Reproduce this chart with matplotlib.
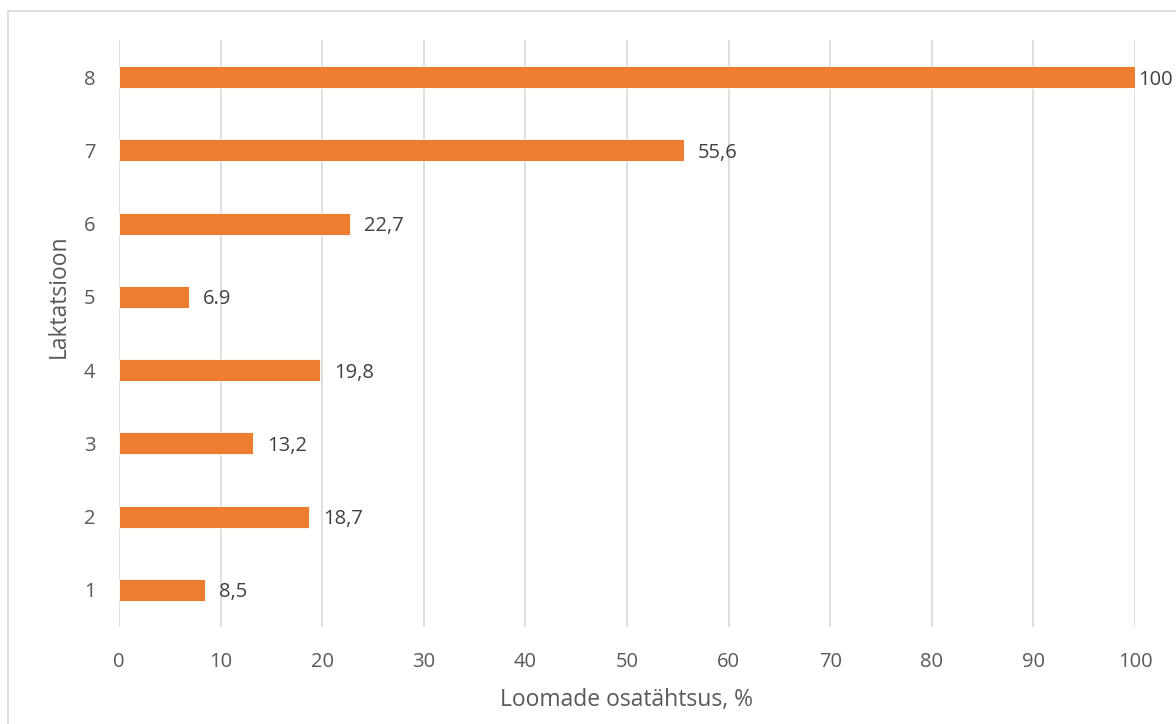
import matplotlib
matplotlib.use("Agg")
import matplotlib.pyplot as plt
from matplotlib.patches import Rectangle

plt.rcParams['font.family'] = ['Open Sans', 'DejaVu Sans']

# lactation number vs share of animals
laktatsioon = [1, 2, 3, 4, 5, 6, 7, 8]
osatahtsus = [8.5, 18.7, 13.2, 19.8, 6.9, 22.7, 55.6, 100]
sildid = ["8,5", "18,7", "13,2", "19,8", "6.9", "22,7", "55,6", "100"]

fig = plt.figure(figsize=(11.76, 7.24), dpi=100)
ax = fig.add_axes([119/1176, 1 - 626.6/724, (1135 - 119)/1176, (626.6 - 40.4)/724])

# light frame around the chart area
fig.patches.append(Rectangle((8/1176, -0.1), 1.2, 1 - 11/724 + 0.1, transform=fig.transFigure,
                             fill=False, edgecolor="#d9d9d9", linewidth=1.2))

ax.barh(laktatsioon, osatahtsus, height=0.3, color="#ed7d31", edgecolor="white", linewidth=0.6, zorder=3)
for y, v, s in zip(laktatsioon, osatahtsus, sildid):
    dx = 2 if v >= 100 else 10  # keep the last label inside the figure
    ax.annotate(s, (v, y), xytext=(dx, 0), textcoords="offset points", va="center_baseline",
                ha="left", fontsize=14.5, color="#404040")

ax.set_xlim(0, 100)
ax.set_ylim(0.5, 8.5)
ax.set_xticks(range(0, 101, 10))
ax.set_yticks(laktatsioon)
ax.grid(axis="x", color="#d9d9d9", linewidth=1.2, zorder=0)
for sp in ax.spines.values():
    sp.set_visible(False)
ax.tick_params(length=0, labelsize=14.5, labelcolor="#595959")
ax.tick_params(axis="y", pad=17)
ax.tick_params(axis="x", pad=18)
ax.set_xlabel("Loomade osatähtsus, %", fontsize=16.5, color="#595959", va="center")
ax.xaxis.set_label_coords(0.5, -0.125)
ax.set_ylabel("Laktatsioon", fontsize=16.5, color="#595959", va="center")
ax.yaxis.set_label_coords(-0.059, 0.564)

fig.savefig("out.png", dpi=100)
